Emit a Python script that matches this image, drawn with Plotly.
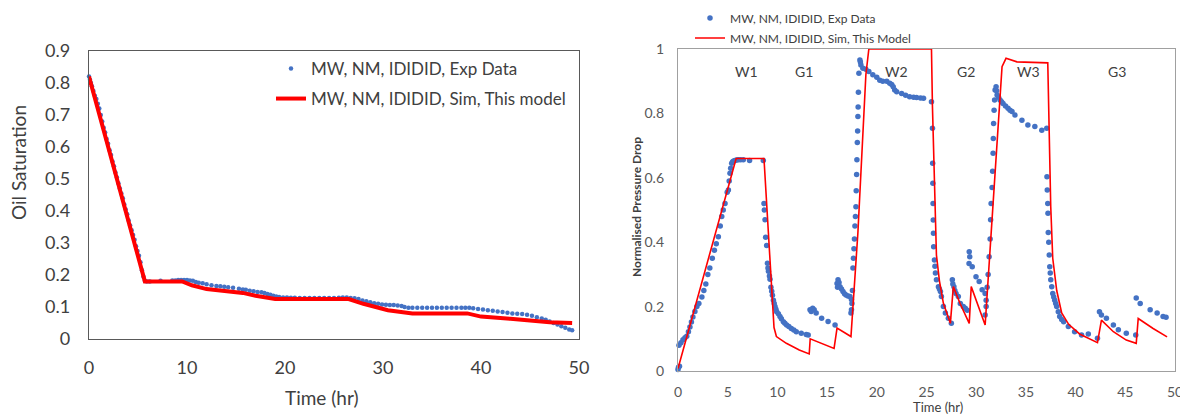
import plotly.graph_objects as go

# ---------------- Left chart: Oil saturation ----------------
sat_exp_t = [0, 0.1, 0.2, 0.3, 0.45, 0.6, 0.75, 0.9, 1.05, 1.2, 1.35, 1.5, 1.65, 1.8, 1.95, 2.1, 2.25, 2.4,
             2.55, 2.7, 2.85, 3.0, 3.15, 3.3, 3.45, 3.6, 3.75, 3.9, 4.05, 4.2, 4.35, 4.5, 4.65, 4.8, 4.95, 5.1,
             5.25, 5.4, 5.55, 5.7, 5.9, 6.2, 7.3, 8.5, 8.8, 9.1, 9.4, 9.7, 10.0, 10.3, 10.6, 10.9, 11.2, 11.6,
             12.0, 12.5, 13.0, 13.4, 13.8, 14.2, 14.7, 15.3, 15.7, 16.0, 16.4, 16.8, 17.2, 17.6, 17.9, 18.2,
             18.5, 18.8, 19.1, 19.4, 19.8, 20.2, 20.6, 21.0, 21.5, 22.0, 22.5, 23.0, 23.5, 24.0, 24.5, 25.0,
             25.5, 25.9, 26.3, 26.7, 27.1, 27.5, 27.9, 28.3, 28.7, 29.1, 29.5, 29.9, 30.3, 30.7, 31.1, 31.5,
             31.9, 32.2, 32.6, 33.0, 33.5, 34.0, 34.5, 35.0, 35.5, 36.0, 36.5, 37.0, 37.5, 38.0, 38.4, 38.8,
             39.2, 39.7, 40.2, 40.7, 41.2, 41.7, 42.2, 42.7, 43.2, 43.7, 44.2, 44.7, 45.2, 45.7, 46.2, 46.6,
             47.0, 47.4, 47.8, 48.2, 48.6, 49.0, 49.3]
sat_exp_s = [0.82, 0.81, 0.80, 0.79, 0.775, 0.76, 0.75, 0.735, 0.72, 0.70, 0.68, 0.66, 0.645, 0.625, 0.61, 0.59,
             0.575, 0.555, 0.54, 0.52, 0.505, 0.487, 0.47, 0.455, 0.44, 0.42, 0.405, 0.39, 0.37, 0.355, 0.34,
             0.325, 0.31, 0.29, 0.275, 0.26, 0.24, 0.215, 0.195, 0.182, 0.18, 0.18, 0.182, 0.183, 0.183, 0.184,
             0.184, 0.184, 0.184, 0.183, 0.182, 0.178, 0.176, 0.174, 0.171, 0.168, 0.166, 0.165, 0.163, 0.162,
             0.16, 0.157, 0.155, 0.154, 0.151, 0.149, 0.147, 0.146, 0.144, 0.141, 0.138, 0.135, 0.133, 0.131,
             0.13, 0.13, 0.129, 0.129, 0.128, 0.128, 0.128, 0.128, 0.128, 0.128, 0.128, 0.128, 0.129, 0.13,
             0.13, 0.128, 0.127, 0.125, 0.12, 0.118, 0.115, 0.112, 0.11, 0.108, 0.107, 0.106, 0.106, 0.105,
             0.103, 0.1, 0.098, 0.098, 0.098, 0.098, 0.098, 0.098, 0.098, 0.098, 0.098, 0.098, 0.098, 0.098,
             0.098, 0.098, 0.096, 0.094, 0.092, 0.09, 0.088, 0.086, 0.084, 0.082, 0.08, 0.079, 0.078, 0.076,
             0.073, 0.068, 0.064, 0.06, 0.055, 0.05, 0.045, 0.04, 0.035, 0.03, 0.027]

sat_sim_t = [0, 5.7, 9.5, 10.5, 12, 14, 15.7, 17, 19, 26.5, 28, 30.5, 32, 33, 38.6, 40, 43, 45, 47, 49.3]
sat_sim_s = [0.82, 0.18, 0.18, 0.168, 0.156, 0.148, 0.144, 0.135, 0.125, 0.125, 0.11, 0.09, 0.085, 0.08,
             0.08, 0.07, 0.063, 0.057, 0.052, 0.05]

# ---------------- Right chart: Normalised pressure drop ----------------
dp_exp_t = [0.0, 0.05, 0.15, 0.1, 0.3, 0.5, 0.7, 0.88, 1.05, 1.2, 1.35, 1.5, 1.7, 1.9, 2.1, 2.4, 2.6, 2.8, 3.0,
            3.2, 3.45, 3.66, 3.85, 4.06, 4.25, 4.4, 4.55, 4.73, 4.95, 5.07, 5.15, 5.23, 5.3, 5.4, 5.5, 5.6,
            5.73, 5.9, 6.07, 6.3, 6.57, 7.2, 8.58,
            8.65, 8.68, 8.75, 8.82, 8.92, 9.0, 9.05, 9.1, 9.2, 9.26, 9.35, 9.43, 9.5, 9.6, 9.68, 9.76, 9.85,
            9.93, 10.1, 10.26, 10.4, 10.6, 10.75, 10.93, 11.15, 11.4, 11.65, 11.9, 12.4, 12.9, 13.1,
            13.28, 13.4, 13.55, 13.7, 13.9, 14.45, 15.1, 15.8,
            16.0, 16.05, 16.1, 16.2, 16.3, 16.45, 16.6, 16.75, 16.9, 17.1, 17.3, 17.45, 17.5, 17.4, 17.45,
            17.55, 17.6, 17.65, 17.7, 17.75, 17.8, 17.85, 17.9, 17.93, 17.97, 18.0, 18.04, 18.07, 18.1, 18.12,
            18.15, 18.2, 18.3, 18.35, 18.4, 18.6, 18.9, 19.2, 19.6, 20.0, 20.3, 20.6, 21.0, 21.3, 21.5, 21.65,
            21.8, 22.0, 22.5, 22.9, 23.3, 23.7, 24.0, 24.4, 24.7, 25.5,
            25.6, 25.62, 25.64, 25.66, 25.68, 25.7, 25.72, 25.8, 25.85, 25.9, 26.0, 26.2, 26.3, 26.4, 26.5,
            26.7, 26.9, 27.2, 27.5,
            27.6, 27.65, 27.76, 27.85, 27.97, 28.2, 28.4, 28.7, 28.9, 29.1,
            29.3, 29.35, 29.28, 29.6, 29.98, 30.3, 30.6, 30.9, 31.0, 30.9,
            31.0, 31.1, 31.2, 31.3, 31.4, 31.45, 31.5, 31.6, 31.65, 31.7, 31.72, 31.75, 31.8, 31.85, 31.9,
            32.0, 32.05, 32.1, 32.25, 32.4, 32.55, 32.7, 32.95, 33.2, 33.4, 33.6, 33.9, 34.6, 35.2, 35.9,
            36.6, 37.1,
            37.12, 37.15, 37.2, 37.22, 37.25, 37.3, 37.35, 37.4, 37.45, 37.5, 37.6, 37.7, 37.8, 37.9, 38.0,
            38.1, 38.26, 38.4, 38.6, 38.8, 39.27, 39.9, 40.6, 41.28,
            42.2, 42.4, 42.6, 43.1, 43.8, 44.3, 45.1, 46.05,
            46.1, 46.5, 47.5, 48.2, 48.8, 49.1]
dp_exp_v = [0.005, 0.012, 0.015, 0.08, 0.088, 0.097, 0.103, 0.108, 0.122, 0.137, 0.152, 0.168, 0.185, 0.2,
            0.21, 0.23, 0.25, 0.27, 0.3, 0.32, 0.35, 0.375, 0.395, 0.417, 0.45, 0.48, 0.5, 0.52, 0.555, 0.562,
            0.59, 0.614, 0.63, 0.645, 0.65, 0.652, 0.654, 0.655, 0.656, 0.656, 0.656, 0.654, 0.654,
            0.52, 0.50, 0.47, 0.415, 0.39, 0.335, 0.32, 0.31, 0.295, 0.285, 0.26, 0.248, 0.235, 0.22, 0.21,
            0.2, 0.192, 0.184, 0.178, 0.169, 0.162, 0.153, 0.148, 0.143, 0.138, 0.132, 0.127, 0.122, 0.117,
            0.113, 0.112,
            0.19, 0.185, 0.195, 0.19, 0.18, 0.164, 0.154, 0.143,
            0.272, 0.26, 0.283, 0.275, 0.262, 0.255, 0.247, 0.24, 0.236, 0.233, 0.231, 0.222, 0.21, 0.18, 0.19,
            0.25, 0.32, 0.35, 0.38, 0.41, 0.45, 0.48, 0.51, 0.56, 0.61, 0.656, 0.71, 0.745, 0.79, 0.82,
            0.866, 0.925, 0.966, 0.96, 0.95, 0.94, 0.937, 0.93, 0.92, 0.912, 0.903, 0.9, 0.9, 0.894, 0.89,
            0.883, 0.873, 0.867, 0.862, 0.856, 0.852, 0.85, 0.849, 0.848, 0.847, 0.836,
            0.754, 0.645, 0.583, 0.52, 0.469, 0.428, 0.386, 0.345, 0.325, 0.304, 0.283, 0.262, 0.255, 0.247,
            0.231, 0.2, 0.18, 0.164, 0.148,
            0.283, 0.27, 0.262, 0.25, 0.241, 0.231, 0.21, 0.2, 0.195, 0.189,
            0.37, 0.355, 0.334, 0.324, 0.293, 0.278, 0.252, 0.241, 0.2, 0.174,
            0.22, 0.26, 0.30, 0.355, 0.41, 0.47, 0.52, 0.57, 0.62, 0.676, 0.722, 0.769, 0.81, 0.842, 0.873,
            0.883, 0.87, 0.857, 0.85, 0.842, 0.836, 0.831, 0.823, 0.816, 0.81, 0.806, 0.795, 0.779, 0.764,
            0.759, 0.748, 0.754,
            0.603, 0.562, 0.52, 0.49, 0.43, 0.4, 0.36, 0.324, 0.304, 0.283, 0.262, 0.241, 0.23, 0.22, 0.21,
            0.2, 0.184, 0.169, 0.16, 0.153, 0.138, 0.122, 0.112, 0.115,
            0.102, 0.184, 0.174, 0.164, 0.143, 0.128, 0.117, 0.112,
            0.227, 0.21, 0.19, 0.18, 0.169, 0.167]

dp_sim_t = [0, 5.73, 5.85, 8.65, 9.4, 9.66, 9.9, 10.9, 12.2, 13.2, 13.3, 15.7, 16.0, 17.0, 17.4, 18.1, 18.9,
            19.2, 25.5, 25.6, 25.85, 26.0, 26.3, 26.7, 27.2, 27.4, 27.7, 28.4, 29.3, 29.5, 30.9, 32.3, 32.6,
            33.0, 34.1, 37.2, 37.3, 37.5, 37.7, 38.1, 38.6, 39.3, 40.4, 42.2, 42.6, 43.8, 45.1, 46.1, 46.3,
            47.8, 49.2]
dp_sim_v = [0.008, 0.645, 0.66, 0.66, 0.25, 0.135, 0.107, 0.086, 0.065, 0.053, 0.10, 0.07, 0.133, 0.115,
            0.107, 0.43, 0.92, 1.0, 1.0, 0.82, 0.51, 0.36, 0.28, 0.21, 0.166, 0.148, 0.262, 0.208, 0.148,
            0.262, 0.143, 0.82, 0.945, 0.971, 0.96, 0.957, 0.82, 0.51, 0.35, 0.25, 0.18, 0.145, 0.115, 0.088,
            0.158, 0.122, 0.096, 0.086, 0.163, 0.132, 0.106]

phase_labels = ["W1", "G1", "W2", "G2", "W3", "G3"]
phase_times = [6.9, 12.7, 22.0, 29.0, 35.3, 44.2]

BLUE = "#4472C4"
RED = "#FF0000"
FONT = "Lato"

fig = go.Figure()

fig.add_trace(go.Scatter(x=sat_exp_t, y=sat_exp_s, mode="markers", name="MW, NM, IDIDID, Exp Data",
                         marker=dict(color=BLUE, size=4.5), xaxis="x", yaxis="y", legend="legend",
                         showlegend=True, cliponaxis=False))
fig.add_trace(go.Scatter(x=sat_sim_t, y=sat_sim_s, mode="lines", name="MW, NM, IDIDID, Sim, This model",
                         line=dict(color=RED, width=4), xaxis="x", yaxis="y", legend="legend2",
                         showlegend=True))
fig.add_trace(go.Scatter(x=dp_exp_t, y=dp_exp_v, mode="markers", name="MW, NM, IDIDID, Exp Data",
                         marker=dict(color=BLUE, size=5.5), xaxis="x2", yaxis="y2", legend="legend3",
                         showlegend=True, cliponaxis=False))
fig.add_trace(go.Scatter(x=dp_sim_t, y=dp_sim_v, mode="lines", name="MW, NM, IDIDID, Sim, This Model",
                         line=dict(color=RED, width=1.6), xaxis="x2", yaxis="y2", legend="legend4",
                         showlegend=True))

# The page body adds an 8 px margin, so the figure is 8 px smaller and all
# page positions are shifted by 8 px.
OFF = 8
W, H = 1188 - OFF, 417 - OFF

def px(x):
    return (x - OFF) / W

def py(y):
    return 1 - (y - OFF) / H

left_axis = dict(showgrid=False, zeroline=False, showline=True, mirror=True, linecolor="#595959",
                 linewidth=1.3, ticks="", automargin=False,
                 tickfont=dict(family=FONT, size=18, color="#404040"))
right_axis = dict(showgrid=False, zeroline=False, showline=True, mirror=True, linecolor="#A0A0A0",
                  linewidth=1.3, ticks="", automargin=False,
                  tickfont=dict(family=FONT, size=14, color="#595959"))

fig.update_layout(
    width=W, height=H, margin=dict(l=0, r=0, t=0, b=0, autoexpand=False),
    paper_bgcolor="white", plot_bgcolor="white", showlegend=True,
    font=dict(family=FONT, color="#404040"),
    xaxis=dict(domain=[px(89), px(579)], range=[0, 50], dtick=10, anchor="y",
               ticklabelstandoff=12, **left_axis),
    yaxis=dict(domain=[py(339), py(51)], range=[0, 0.9], dtick=0.1, anchor="x",
               ticklabelstandoff=14, **left_axis),
    xaxis2=dict(domain=[px(678), px(1175)], range=[0, 50], dtick=5, anchor="y2",
                ticklabelstandoff=8, **right_axis),
    yaxis2=dict(domain=[py(371), py(49)], range=[0, 1], dtick=0.2, anchor="x2",
                ticklabelstandoff=10, **right_axis),
    legend=dict(x=px(271), y=py(69), xanchor="left", yanchor="middle", bgcolor="rgba(0,0,0,0)",
                font=dict(family=FONT, size=17, color="#404040")),
    legend2=dict(x=px(271), y=py(99), xanchor="left", yanchor="middle", bgcolor="rgba(0,0,0,0)",
                 font=dict(family=FONT, size=17, color="#404040")),
    legend3=dict(x=px(690), y=py(18), xanchor="left", yanchor="middle", bgcolor="rgba(0,0,0,0)",
                 font=dict(family=FONT, size=12, color="#404040")),
    legend4=dict(x=px(690), y=py(38), xanchor="left", yanchor="middle", bgcolor="rgba(0,0,0,0)",
                 font=dict(family=FONT, size=12, color="#404040")),
)

title_common = dict(xref="paper", yref="paper", showarrow=False, xanchor="center", yanchor="middle")
annotations = [
    dict(text="Oil Saturation", x=px(18), y=py(163), textangle=-90,
         font=dict(family=FONT, size=19, color="#404040"), **title_common),
    dict(text="Time (hr)", x=px(322), y=py(397),
         font=dict(family=FONT, size=19, color="#404040"), **title_common),
    dict(text="<b>Normalised Pressure Drop</b>", x=px(636), y=py(207), textangle=-90,
         font=dict(family=FONT, size=12, color="#404040"), **title_common),
    dict(text="Time (hr)", x=px(938), y=py(407),
         font=dict(family=FONT, size=13, color="#404040"), **title_common),
]
for lab, t in zip(phase_labels, phase_times):
    annotations.append(dict(text=lab, x=t, y=0.93, xref="x2", yref="y2", showarrow=False,
                            xanchor="center", yanchor="middle",
                            font=dict(family=FONT, size=14, color="#404040")))
fig.update_layout(annotations=annotations)

fig.write_html("out.html")
